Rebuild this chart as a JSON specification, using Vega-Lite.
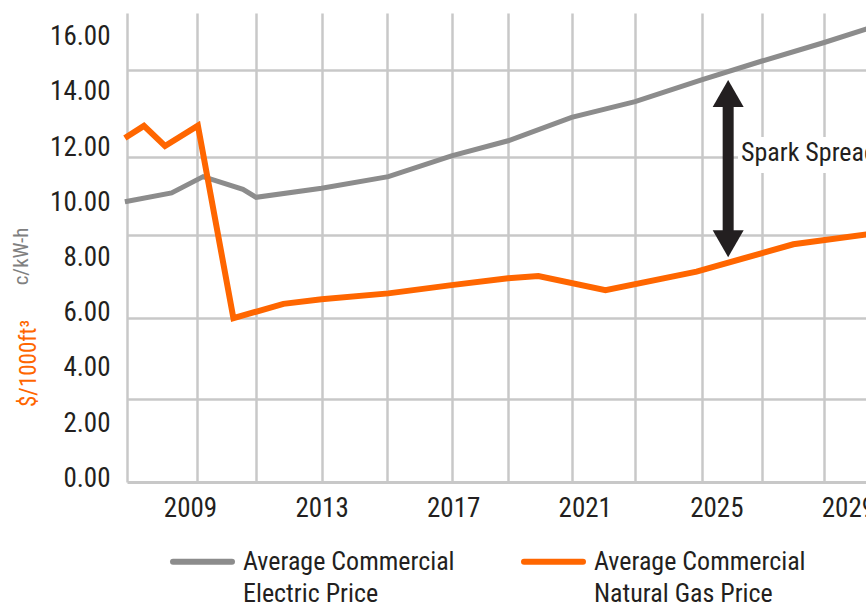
{
  "$schema": "https://vega.github.io/schema/vega-lite/v6.json",
  "width": 739,
  "height": 469,
  "autosize": {"type": "none"},
  "padding": {"left": 127, "top": 13, "right": 0, "bottom": 124},
  "background": "white",
  "config": {
    "font": "Roboto Condensed, Roboto, sans-serif",
    "view": {"stroke": null}
  },
  "data": {
    "values": [
      {"year": 2007.02, "series": "Electric", "price": 10.02},
      {"year": 2008.44, "series": "Electric", "price": 10.34},
      {"year": 2009.40, "series": "Electric", "price": 10.93},
      {"year": 2010.61, "series": "Electric", "price": 10.47},
      {"year": 2011.01, "series": "Electric", "price": 10.18},
      {"year": 2013.00, "series": "Electric", "price": 10.51},
      {"year": 2015.03, "series": "Electric", "price": 10.93},
      {"year": 2016.95, "series": "Electric", "price": 11.68},
      {"year": 2018.67, "series": "Electric", "price": 12.23},
      {"year": 2020.60, "series": "Electric", "price": 13.08},
      {"year": 2022.53, "series": "Electric", "price": 13.65},
      {"year": 2024.55, "series": "Electric", "price": 14.44},
      {"year": 2026.39, "series": "Electric", "price": 15.12},
      {"year": 2028.28, "series": "Electric", "price": 15.79},
      {"year": 2029.67, "series": "Electric", "price": 16.32},
      {"year": 2007.02, "series": "Gas", "price": 12.33},
      {"year": 2007.60, "series": "Gas", "price": 12.77},
      {"year": 2008.24, "series": "Gas", "price": 12.04},
      {"year": 2009.24, "series": "Gas", "price": 12.78},
      {"year": 2010.32, "series": "Gas", "price": 5.80},
      {"year": 2011.84, "series": "Gas", "price": 6.32},
      {"year": 2013.00, "series": "Gas", "price": 6.49},
      {"year": 2015.03, "series": "Gas", "price": 6.70},
      {"year": 2016.95, "series": "Gas", "price": 7.00},
      {"year": 2018.67, "series": "Gas", "price": 7.25},
      {"year": 2019.59, "series": "Gas", "price": 7.33},
      {"year": 2021.63, "series": "Gas", "price": 6.82},
      {"year": 2024.40, "series": "Gas", "price": 7.49},
      {"year": 2027.34, "series": "Gas", "price": 8.48},
      {"year": 2029.67, "series": "Gas", "price": 8.85}
    ]
  },
  "layer": [
    {
      "transform": [{"filter": "datum.series == 'Electric'"}],
      "mark": {"type": "line", "strokeWidth": 5},
      "encoding": {
        "x": {
          "field": "year", "type": "quantitative",
          "scale": {"domain": [2007.085, 2029.55], "nice": false, "zero": false},
          "axis": {
            "orient": "top",
            "values": [2009.22, 2011.0, 2013.0, 2014.98, 2016.95, 2018.67, 2020.6, 2022.53, 2024.55, 2026.39, 2028.28],
            "grid": true, "gridColor": "#c8c8c8", "gridWidth": 2.5,
            "labels": false, "ticks": false, "domain": false, "title": null
          }
        },
        "y": {
          "field": "price", "type": "quantitative",
          "scale": {"domain": [-0.134, 16.859], "nice": false, "zero": false},
          "axis": {
            "orient": "right",
            "values": [2.86, 5.79, 8.81, 11.63, 14.8],
            "grid": true, "gridColor": "#c8c8c8", "gridWidth": 2.5,
            "labels": false, "ticks": false, "domain": false,
            "title": "$/1000ft³", "titleColor": "#ff6600", "titleFontSize": 23,
            "titleFontWeight": "normal", "titleAngle": 270,
            "titleX": -838, "titleY": 350, "titleAlign": "center", "titleBaseline": "middle"
          }
        },
        "color": {
          "field": "series", "type": "nominal",
          "scale": {"domain": ["Electric", "Gas"], "range": ["#8c8c8c", "#ff6600"]},
          "legend": {
            "orient": "none", "direction": "horizontal", "legendX": 43, "legendY": 516,
            "title": null, "padding": 0,
            "symbolType": "stroke", "symbolSize": 3481, "symbolStrokeWidth": 6,
            "labelFontSize": 26, "labelColor": "#231f20", "labelLimit": 400, "labelOffset": 8,
            "columnPadding": 57,
            "labelExpr": "datum.label == 'Electric' ? ['Average Commercial', 'Electric Price'] : ['Average Commercial', 'Natural Gas Price']",
            "encode": {
              "symbols": {"update": {"strokeCap": {"value": "round"}}},
              "labels": {"update": {"lineHeight": {"value": 32}}}
            }
          }
        }
      }
    },
    {
      "layer": [
        {
          "transform": [{"filter": "datum.series == 'Gas'"}],
          "mark": {"type": "line", "strokeWidth": 6},
          "encoding": {
            "x": {
              "field": "year", "type": "quantitative",
              "scale": {"domain": [2007.085, 2029.55], "nice": false, "zero": false},
              "axis": {
                "orient": "bottom",
                "values": [2009, 2013, 2017, 2021, 2025, 2029],
                "format": "d", "grid": false, "ticks": false,
                "domain": true, "domainColor": "#c8c8c8", "domainWidth": 3,
                "labelFontSize": 27, "labelColor": "#231f20", "labelPadding": 13,
                "title": null
              }
            },
            "y": {
              "field": "price", "type": "quantitative",
              "scale": {"domain": [-0.134, 16.859], "nice": false, "zero": false},
              "axis": {
                "orient": "left",
                "values": [0, 2, 4, 6, 8, 10, 12, 14, 16],
                "format": ".2f", "grid": false, "ticks": false,
                "domain": true, "domainColor": "#c8c8c8", "domainWidth": 2.5,
                "labelFontSize": 27, "labelColor": "#231f20", "labelPadding": 17,
                "title": "c/kW-h", "titleColor": "#808080", "titleFontSize": 21,
                "titleFontWeight": "normal", "titleAngle": 270,
                "titleX": -106, "titleY": 243, "titleAlign": "center", "titleBaseline": "middle"
              }
            },
            "color": {
              "field": "series", "type": "nominal",
              "scale": {"domain": ["Electric", "Gas"], "range": ["#8c8c8c", "#ff6600"]},
              "legend": {
                "orient": "none", "direction": "horizontal", "legendX": 43, "legendY": 516,
                "title": null, "padding": 0,
                "symbolType": "stroke", "symbolSize": 3481, "symbolStrokeWidth": 6,
                "labelFontSize": 26, "labelColor": "#231f20", "labelLimit": 400, "labelOffset": 8,
                "columnPadding": 57,
                "labelExpr": "datum.label == 'Electric' ? ['Average Commercial', 'Electric Price'] : ['Average Commercial', 'Natural Gas Price']",
                "encode": {
                  "symbols": {"update": {"strokeCap": {"value": "round"}}},
                  "labels": {"update": {"lineHeight": {"value": 32}}}
                }
              }
            }
          }
        },
        {
          "data": {"values": [{"label": "Spark Spread"}]},
          "mark": {"type": "rect", "color": "white"},
          "encoding": {
            "x": {"datum": 2025.66, "type": "quantitative"},
            "x2": {"datum": 2031},
            "y": {"datum": 12.37, "type": "quantitative"},
            "y2": {"datum": 11.06}
          }
        },
        {
          "data": {"values": [{"label": "Spark Spread"}]},
          "mark": {"type": "rule", "color": "#231f20", "strokeWidth": 11},
          "encoding": {
            "x": {"datum": 2025.36, "type": "quantitative"},
            "y": {"datum": 13.5, "type": "quantitative"},
            "y2": {"datum": 8.95}
          }
        },
        {
          "data": {"values": [{"label": "Spark Spread"}]},
          "mark": {"type": "point", "shape": "M-1,0.87L1,0.87L0,-0.87Z", "size": 961, "filled": true, "color": "#231f20", "opacity": 1, "strokeWidth": 0},
          "encoding": {
            "x": {"datum": 2025.36, "type": "quantitative"},
            "y": {"datum": 13.94, "type": "quantitative"}
          }
        },
        {
          "data": {"values": [{"label": "Spark Spread"}]},
          "mark": {"type": "point", "shape": "M-1,-0.87L1,-0.87L0,0.87Z", "size": 961, "filled": true, "color": "#231f20", "opacity": 1, "strokeWidth": 0},
          "encoding": {
            "x": {"datum": 2025.36, "type": "quantitative"},
            "y": {"datum": 8.5, "type": "quantitative"}
          }
        },
        {
          "data": {"values": [{"label": "Spark Spread"}]},
          "mark": {"type": "text", "align": "left", "baseline": "middle", "fontSize": 26, "color": "#231f20"},
          "encoding": {
            "text": {"field": "label"},
            "x": {"datum": 2025.75, "type": "quantitative"},
            "y": {"datum": 11.79, "type": "quantitative"}
          }
        }
      ]
    }
  ],
  "resolve": {
    "scale": {"x": "independent", "y": "independent"},
    "axis": {"x": "independent", "y": "independent"}
  }
}
